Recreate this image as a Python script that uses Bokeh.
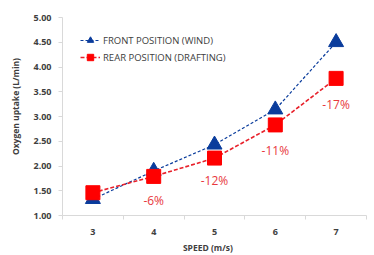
from bokeh.plotting import figure
from bokeh.models import FixedTicker, Range1d, Legend, LegendItem, ColumnDataSource, NumeralTickFormatter
from bokeh.core.properties import value
from bokeh.embed import file_html
from bokeh.resources import INLINE

speeds = [3, 4, 5, 6, 7]
front = [1.33, 1.90, 2.43, 3.14, 4.50]
rear = [1.46, 1.79, 2.16, 2.83, 3.77]
pct_labels = ["", "-6%", "-12%", "-11%", "-17%"]
pct_y = [None, 1.30, 1.71, 2.32, 3.24]

FONT = "Open Sans"
GREY = "#404040"
BLUE = "#0a3c9c"
RED = "#ff0000"

p = figure(width=374, height=255, output_backend="svg", toolbar_location=None,
           x_range=Range1d(2.5, 7.5), y_range=Range1d(1.0, 5.0),
           min_border_left=62, min_border_right=8, min_border_top=17, min_border_bottom=38)
p.outline_line_color = None
p.grid.visible = False
p.background_fill_color = "white"
p.border_fill_color = "white"

fl = p.line(speeds, front, line_color=BLUE, line_dash="3 2", line_width=1.2)
fm = p.scatter(speeds, front, marker="triangle", size=15, fill_color=BLUE, line_color=BLUE)
rl = p.line(speeds, rear, line_color="#e8202a", line_dash="4 2", line_width=1.6)
rm = p.scatter(speeds, rear, marker="square", size=14, fill_color=RED, line_color=RED)

src = ColumnDataSource(dict(x=speeds[1:], y=pct_y[1:], t=pct_labels[1:]))
p.text(x="x", y="y", text="t", source=src, text_align="center", text_baseline="middle",
       text_color="#e8383d", text_font=value(FONT), text_font_size="12px")

xa = p.xaxis[0]
xa.ticker = FixedTicker(ticks=speeds, minor_ticks=[2.5, 3.5, 4.5, 5.5, 6.5, 7.5])
xa.major_tick_out = 0
xa.major_tick_in = 0
xa.minor_tick_out = 4
xa.minor_tick_in = 0
xa.minor_tick_line_color = "#d9d9d9"
xa.axis_line_color = "#d9d9d9"
xa.axis_label = "SPEED (m/s)" + "\u00a0" * 6
xa.major_label_standoff = 9
xa.axis_label_standoff = 4

ya = p.yaxis[0]
ya.ticker = FixedTicker(ticks=[1.0, 1.5, 2.0, 2.5, 3.0, 3.5, 4.0, 4.5, 5.0])
ya.formatter = NumeralTickFormatter(format="0.00")
ya.major_tick_out = 4
ya.major_tick_in = 0
ya.minor_tick_out = 0
ya.minor_tick_in = 0
ya.major_tick_line_color = "#d9d9d9"
ya.axis_line_color = "#d9d9d9"
ya.axis_label = "\u00a0" * 9 + "Oxygen uptake (L/min)"
ya.major_label_standoff = 7
ya.axis_label_standoff = 9

for ax in (xa, ya):
    ax.major_label_text_font = FONT
    ax.major_label_text_font_size = "9px"
    ax.major_label_text_font_style = "bold"
    ax.major_label_text_color = GREY
    ax.axis_label_text_font = FONT
    ax.axis_label_text_font_size = "8.5px"
    ax.axis_label_text_font_style = "bold"
    ax.axis_label_text_color = GREY

legend = Legend(items=[LegendItem(label="FRONT POSITION (WIND)", renderers=[fl, fm]),
                       LegendItem(label="REAR POSITION (DRAFTING)", renderers=[rl, rm])],
                location=(18, 150), border_line_color=None, background_fill_alpha=0,
                label_text_font=FONT, label_text_font_size="9.5px", label_text_color=GREY,
                glyph_width=20, glyph_height=16, label_height=16, spacing=1, padding=2,
                label_standoff=3, margin=0)
p.add_layout(legend)

open("out.html", "w").write(file_html(p, INLINE))
